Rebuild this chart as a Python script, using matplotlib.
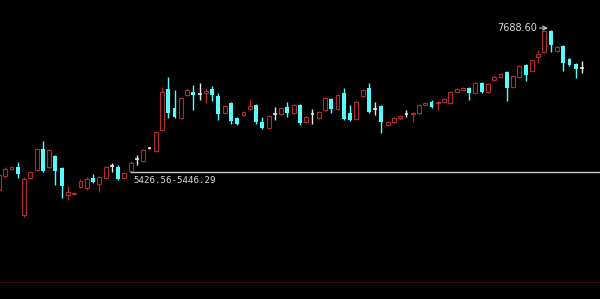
import numpy as np
import matplotlib
matplotlib.use('Agg')
import matplotlib.pyplot as plt

# daily candles (index 0 = leftmost, partly cut)
opens = [5160, 5381, 5492, 5523, 4765, 5350, 5476, 5808, 5523, 5697,
         5508, 5081, 5097, 5207, 5192, 5350, 5255, 5350, 5539, 5523,
         5350, 5460, 5650, 5618, 5824, 5776, 6108, 6756, 6456, 6298,
         6661, 6708, 6677, 6693, 6756, 6645, 6377, 6535, 6298, 6345,
         6440, 6503, 6234, 6140, 6361, 6361, 6471, 6377, 6503, 6234,
         6361, 6298, 6424, 6598, 6440, 6693, 6377, 6282, 6645, 6772,
         6440, 6487, 6187, 6234, 6298, 6361, 6361, 6377, 6503, 6550,
         6535, 6550, 6535, 6708, 6740, 6772, 6693, 6851, 6708, 6898,
         6945, 7024, 6787, 6945, 7135, 7040, 7261, 7340, 7672, 7356,
         7435, 7230, 7151, 7088]
highs = [5429, 5523, 5539, 5602, 5365, 5460, 5824, 5934, 5808, 5713,
         5523, 5223, 5128, 5334, 5365, 5413, 5381, 5539, 5587, 5555,
         5444, 5618, 5713, 5808, 5839, 6092, 6787, 6945, 6740, 6629,
         6772, 6819, 6851, 6772, 6803, 6693, 6503, 6550, 6313, 6408,
         6598, 6519, 6313, 6345, 6471, 6471, 6550, 6519, 6519, 6329,
         6440, 6408, 6629, 6614, 6677, 6772, 6503, 6566, 6756, 6851,
         6550, 6503, 6250, 6313, 6345, 6424, 6392, 6519, 6550, 6582,
         6566, 6614, 6724, 6772, 6787, 6787, 6866, 6866, 6851, 6961,
         7009, 7040, 6977, 7135, 7151, 7230, 7372, 7680, 7688.60, 7435,
         7451, 7246, 7167, 7198]
lows = [5128, 5350, 5476, 5350, 4733, 5334, 5460, 5444, 5508, 5239,
        5034, 5002, 5081, 5192, 5160, 5271, 5128, 5334, 5444, 5318,
        5334, 5444, 5555, 5602, 5808, 5760, 6092, 6298, 6298, 6282,
        6645, 6424, 6582, 6535, 6566, 6266, 6361, 6203, 6187, 6329,
        6424, 6203, 6124, 6124, 6266, 6345, 6313, 6361, 6187, 6219,
        6203, 6282, 6408, 6377, 6424, 6266, 6250, 6266, 6629, 6377,
        6345, 6061, 6171, 6219, 6282, 6313, 6234, 6361, 6487, 6456,
        6424, 6535, 6519, 6693, 6724, 6582, 6677, 6693, 6693, 6882,
        6930, 6566, 6772, 6930, 6882, 7024, 7167, 7325, 7340, 7340,
        7040, 7119, 6930, 7009]
closes = [5397, 5492, 5523, 5413, 5334, 5444, 5808, 5460, 5792, 5460,
          5223, 5128, 5113, 5302, 5334, 5286, 5365, 5523, 5539, 5334,
          5429, 5587, 5650, 5792, 5824, 6076, 6708, 6377, 6313, 6614,
          6740, 6661, 6677, 6724, 6661, 6361, 6487, 6250, 6203, 6392,
          6487, 6234, 6140, 6329, 6361, 6456, 6377, 6503, 6219, 6313,
          6361, 6392, 6614, 6440, 6661, 6282, 6266, 6550, 6740, 6392,
          6440, 6234, 6234, 6298, 6329, 6361, 6377, 6503, 6535, 6471,
          6550, 6598, 6708, 6756, 6772, 6693, 6851, 6708, 6835, 6945,
          6993, 6772, 6961, 7119, 6977, 7214, 7309, 7672, 7451, 7419,
          7167, 7135, 7072, 7088]

gap_low = 5426.56
gap_high = 5446.29
peak_label = '7688.60'

UP = '#b02c2c'
DOWN = '#54fcfc'
FLAT = '#e8e8e8'


def draw():
    o = np.array(opens, dtype=float)
    h = np.array(highs, dtype=float)
    l = np.array(lows, dtype=float)
    c = np.array(closes, dtype=float)
    x = np.arange(len(o))
    up = c > o
    down = c < o
    flat = c == o
    w = 0.62

    fig = plt.figure(figsize=(6, 2.99), dpi=100, facecolor='black')
    ax = fig.add_axes([0, 0, 1, 1])
    ax.set_facecolor('black')

    # up candles: hollow red, wick does not cross the body
    ax.vlines(x[up], c[up], h[up], color=UP, lw=0.9)
    ax.vlines(x[up], l[up], o[up], color=UP, lw=0.9)
    ax.bar(x[up], c[up] - o[up], bottom=o[up], width=w,
           facecolor='black', edgecolor=UP, lw=0.8, zorder=3)

    # down candles: filled cyan
    ax.vlines(x[down], l[down], h[down], color=DOWN, lw=1)
    ax.bar(x[down], o[down] - c[down], bottom=c[down], width=w,
           color=DOWN, lw=0, zorder=3)

    # flat candles: white cross
    ax.vlines(x[flat], l[flat], h[flat], color=FLAT, lw=1)
    ax.hlines(c[flat], x[flat] - w / 2, x[flat] + w / 2, color=FLAT, lw=1.2)

    # gap line with its range label
    ax.hlines(gap_high, 20.9, 100, color='#c8c8c8', lw=1)
    ax.text(21.4, gap_high - 70, '%.2f-%.2f' % (gap_low, gap_high),
            color='#d8d8d8', fontsize=6.6, family='DejaVu Sans Mono',
            ha='left', va='top')

    # highest price marker
    k = int(np.argmax(h))
    ax.annotate(peak_label, xy=(k - 0.45, h[k] + 30), xytext=(-11, 0),
                textcoords='offset pixels', ha='right', va='center',
                color='#d8d8d8', fontsize=7, family='DejaVu Sans',
                arrowprops=dict(arrowstyle='->', color='#d8d8d8', lw=0.8,
                                shrinkA=0, shrinkB=0))

    # faint border of the lower panel
    ax.plot([0, 1], [0.057, 0.057], transform=ax.transAxes,
            color='#36080c', lw=1)

    ax.set_xlim(0.16, 95.87)
    ax.set_ylim(3438, 8162)
    ax.axis('off')
    fig.savefig('out.png', dpi=100, facecolor='black')


if __name__ == '__main__':
    draw()
